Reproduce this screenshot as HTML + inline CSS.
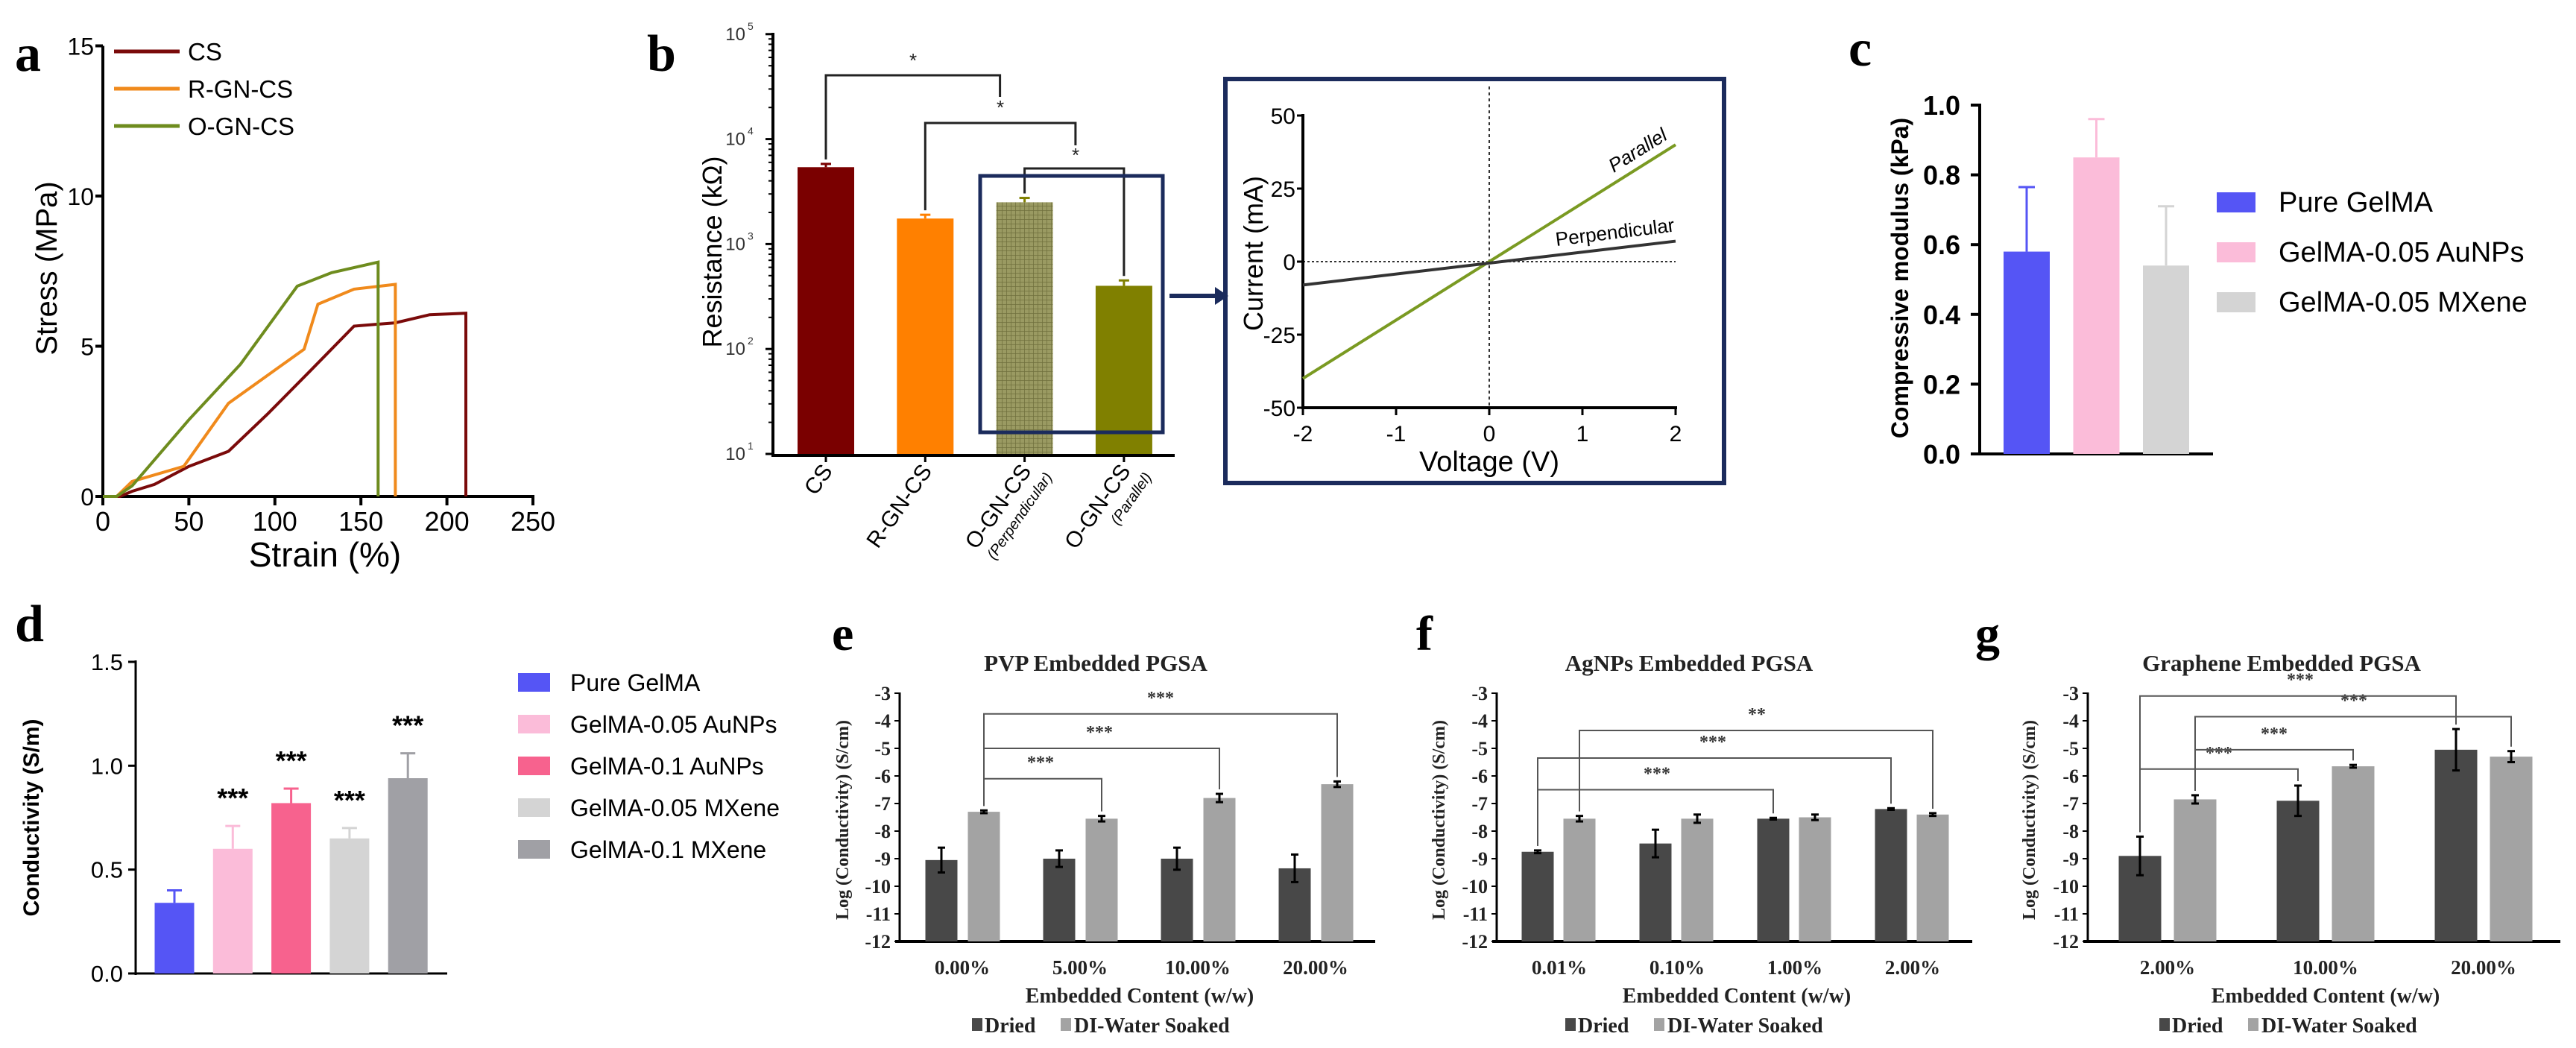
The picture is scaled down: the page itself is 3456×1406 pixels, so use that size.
<!DOCTYPE html>
<html><head><meta charset="utf-8">
<style>
html,body{margin:0;padding:0;background:#fff;}
svg{display:block;}
.sn{font-family:"Liberation Sans Narrow","Liberation Sans",sans-serif;}
.s{font-family:"Liberation Sans",sans-serif;}
.sf{font-family:"Liberation Serif",serif;}
</style></head>
<body>
<svg id="fig" width="3456" height="1406" viewBox="0 0 3456 1406" xmlns="http://www.w3.org/2000/svg">
<defs>
<pattern id="grid" width="6" height="6" patternUnits="userSpaceOnUse">
<rect width="6" height="6" fill="#9a9a62"/>
<path d="M0 0H6M0 0V6" stroke="#70703c" stroke-width="1.5"/>
</pattern>
</defs>
</svg>
<script>
// ---- panel a data ----
const aCSx=[0,10,17,30,50,73,96,120,146,170,190,211];
const aCSy=[0,0,0.17,0.4,1.0,1.5,2.76,4.15,5.67,5.78,6.05,6.1];
const aRGx=[0,8,17,47,73,117,125,146,170];
const aRGy=[0,0,0.5,1.0,3.1,4.9,6.4,6.9,7.06];
const aOGx=[0,8,17,50,80,113,133,160];
const aOGy=[0,0,0.35,2.55,4.4,7.0,7.45,7.8];
const aTicksX=[0,50,100,150,200,250];
const aTicksY=[0,5,10,15];
// ---- panel b data ----
const bCategories=["CS","R-GN-CS","O-GN-CS","O-GN-CS"];
const bSub=["","","(Perpendicular)","(Parallel)"];
const bValues=[5400,1750,2500,400];
const bErrors=[400,150,250,50];
const bDecades=[1,2,3,4,5];
// ---- inset data ----
const ivVoltage=[-2,2];
const ivParallel=[-40,40];
const ivPerp=[-8,7];
const ivTicksX=[-2,-1,0,1,2];
const ivTicksY=[-50,-25,0,25,50];
// ---- panel c data ----
const cCategories=["Pure GelMA","GelMA-0.05 AuNPs","GelMA-0.05 MXene"];
const cValues=[0.58,0.85,0.54];
const cErrors=[0.185,0.11,0.17];
const cTicks=[0,0.2,0.4,0.6,0.8,1.0];
// ---- panel d data ----
const dCategories=["Pure GelMA","GelMA-0.05 AuNPs","GelMA-0.1 AuNPs","GelMA-0.05 MXene","GelMA-0.1 MXene"];
const dValues=[0.34,0.60,0.82,0.65,0.94];
const dErrors=[0.06,0.11,0.07,0.05,0.12];
const dTicks=[0,0.5,1.0,1.5];
// ---- panels e,f,g data ----
const eCategories=["0.00%","5.00%","10.00%","20.00%"];
const eDried=[-9.05,-9.0,-9.0,-9.35];
const eDriedErr=[0.45,0.3,0.4,0.5];
const eSoaked=[-7.3,-7.55,-6.8,-6.3];
const eSoakedErr=[0.05,0.1,0.15,0.1];
const fCategories=["0.01%","0.10%","1.00%","2.00%"];
const fDried=[-8.75,-8.45,-7.55,-7.2];
const fDriedErr=[0.05,0.5,0.03,0.03];
const fSoaked=[-7.55,-7.55,-7.5,-7.4];
const fSoakedErr=[0.1,0.15,0.1,0.05];
const gCategories=["2.00%","10.00%","20.00%"];
const gDried=[-8.9,-6.9,-5.05];
const gDriedErr=[0.7,0.55,0.75];
const gSoaked=[-6.85,-5.65,-5.3];
const gSoakedErr=[0.15,0.05,0.2];
const logTicks=[-3,-4,-5,-6,-7,-8,-9,-10,-11,-12];

const NS="http://www.w3.org/2000/svg";
const svg=document.getElementById('fig');
function mk(tag,attrs,parent){const e=document.createElementNS(NS,tag);for(const k in attrs)e.setAttribute(k,attrs[k]);(parent||svg).appendChild(e);return e;}
function tx(x,y,s,attrs){const e=mk('text',Object.assign({x:x,y:y},attrs||{}));e.textContent=s;return e;}
function ln(x1,y1,x2,y2,st,w){return mk('line',{x1:x1,y1:y1,x2:x2,y2:y2,stroke:st||'#000','stroke-width':w||4});}
let el;

// ================= Panel a =================
const xA=v=>138+v*577/250, yA=v=>666-v*40.3;
el=tx(20,95,'a',{class:'sf','font-size':70,'font-weight':'bold'});


el=ln(xA(0),yA(15),xA(0),yA(0)+2);


el=ln(xA(0)-2,yA(0),xA(250)+2,yA(0));


aTicksX.forEach(v=>{
  el=ln(xA(v),yA(0),xA(v),yA(0)+12,'#000',4);
  
  
  el=tx(xA(v),712,String(v),{class:'sn','font-size':36,'text-anchor':'middle'});
  
  
});
aTicksY.forEach(v=>{
  el=ln(xA(0)-10,yA(v),xA(0),yA(v),'#000',4);
  
  
  el=tx(xA(0)-12,yA(v)+12,String(v),{class:'sn','font-size':32,'text-anchor':'end'});
  
  
});
el=tx(436,760,'Strain (%)',{class:'sn','font-size':46,'text-anchor':'middle'});


el=tx(0,0,'Stress (MPa)',{class:'s','font-size':40,'text-anchor':'middle',transform:'translate(76,360) rotate(-90)'});


function curve(xs,ys,col,name){
  let d=xs.map((x,i)=>(i?'L':'M')+xA(x).toFixed(1)+' '+yA(ys[i]).toFixed(1)).join(' ');
  d+=' L'+xA(xs[xs.length-1]).toFixed(1)+' '+yA(0);
  const p=mk('path',{d:d,fill:'none',stroke:col,'stroke-width':4});
  
  
}
curve(aCSx,aCSy,'#7a0a0a','cs-curve');
curve(aRGx,aRGy,'#f08a1c','r-gn-cs-curve');
curve(aOGx,aOGy,'#6e8c1e','o-gn-cs-curve');
[['CS','#7a0a0a',69],['R-GN-CS','#f08a1c',119],['O-GN-CS','#6e8c1e',169]].forEach(r=>{
  el=ln(153,r[2],241,r[2],r[1],5);
  
  
  el=tx(252,r[2]+12,r[0],{class:'sn','font-size':33});
  
  
});

// ================= Panel b =================
const yB=v=>609-(Math.log10(v)-1)*140.8, xB=i=>1108+i*133.3;
el=tx(868,95,'b',{class:'sf','font-size':70,'font-weight':'bold'});


el=ln(1037,44,1037,613);


el=ln(1035,611,1576,611);


bDecades.forEach(d=>{
  const y=yB(Math.pow(10,d));
  el=ln(1027,y,1037,y,'#000',3);
  
  
  const t=tx(1000,y+8,'10',{class:'sn','font-size':24,fill:'#333','text-anchor':'end'});
  
  
  el=tx(1003,y-6,String(d),{class:'sn','font-size':14,fill:'#333'});
  
  
  if(d<5){for(let m=2;m<10;m++){const ym=yB(m*Math.pow(10,d));
    el=ln(1031,ym,1037,ym,'#000',2);
    
    }}
});
el=tx(0,0,'Resistance (kΩ)',{class:'s','font-size':36,'text-anchor':'middle',transform:'translate(968,338) rotate(-90)'});


const bFill=['#7a0000','#ff8000','url(#grid)','#808000'];
bValues.forEach((v,i)=>{
  const x=xB(i), w=76;
  el=mk('rect',{x:x-w/2,y:yB(v),width:w,height:609-yB(v),fill:bFill[i]});
  
  
  const yt=yB(v+bErrors[i]);
  el=ln(x,yB(v),x,yt,bFill[i]==='url(#grid)'?'#808000':bFill[i],3);
  
  
  el=ln(x-7,yt,x+7,yt,bFill[i]==='url(#grid)'?'#808000':bFill[i],3);
  
  
  el=ln(x,611,x,620,'#000',3);
  
  
  el=tx(0,0,bCategories[i],{class:'sn','font-size':30,'text-anchor':'end',transform:'translate('+(x+10)+',632) rotate(-55)'});
  
  
  if(bSub[i]){
    el=tx(0,0,bSub[i],{class:'sn','font-size':20,'font-style':'italic','text-anchor':'end',transform:'translate('+(x+38)+',640) rotate(-55)'});
    
    
  }
});
function bracket(x1,y1,x2,y2,yh,col,w,name){
  const p=mk('path',{d:'M'+x1+' '+y1+' V'+yh+' H'+x2+' V'+y2,fill:'none',stroke:col,'stroke-width':w});
  
  
}
bracket(xB(0),yB(bValues[0]+bErrors[0])-6,xB(2)-33,130,101,'#222',3,'b-sig-bracket-1');
bracket(xB(1),yB(bValues[1]+bErrors[1])-6,xB(3)-65,195,165,'#222',3,'b-sig-bracket-2');
bracket(xB(2),yB(bValues[2]+bErrors[2])-6,xB(3),yB(bValues[3]+bErrors[3])-6,226,'#222',3,'b-sig-bracket-3');
[[1225,90],[1342,153],[1443,217]].forEach(s=>{
  el=tx(s[0],s[1],'*',{class:'s','font-size':26,'text-anchor':'middle',fill:'#222'});
  
  
});
el=mk('rect',{x:1315,y:236,width:245,height:344,fill:'none',stroke:'#1b2b5c','stroke-width':5});


el=ln(1569,397,1632,397,'#1b2b5c',6);


el=mk('polygon',{points:'1630,385 1648,397 1630,409',fill:'#1b2b5c'});



// ================= Inset IV =================
const xI=v=>1998+v*125, yI=v=>351-v*3.92;
el=mk('rect',{x:1644,y:106,width:669,height:542,fill:'none',stroke:'#1b2b5c','stroke-width':6});


el=ln(xI(0),116,xI(0),yI(-50),'#333',2);
el.setAttribute('stroke-dasharray','4 4');


el=ln(xI(-2),yI(0),xI(2),yI(0),'#333',2);
el.setAttribute('stroke-dasharray','3 3');


el=ln(xI(-2),yI(50)-2,xI(-2),yI(-50)+2,'#000',4);


el=ln(xI(-2)-2,yI(-50),xI(2)+2,yI(-50),'#000',4);


ivTicksX.forEach(v=>{
  el=ln(xI(v),yI(-50),xI(v),yI(-50)+10,'#000',3);
  
  
  el=tx(xI(v),592,String(v),{class:'sn','font-size':30,'text-anchor':'middle'});
  
  
});
ivTicksY.forEach(v=>{
  el=ln(xI(-2)-8,yI(v),xI(-2),yI(v),'#000',3);
  
  
  el=tx(xI(-2)-10,yI(v)+11,String(v),{class:'sn','font-size':30,'text-anchor':'end'});
  
  
});
el=tx(1998,632,'Voltage (V)',{class:'sn','font-size':38,'text-anchor':'middle'});


el=tx(0,0,'Current (mA)',{class:'s','font-size':36,'text-anchor':'middle',transform:'translate(1694,340) rotate(-90)'});


el=ln(xI(ivVoltage[0]),yI(ivParallel[0]),xI(ivVoltage[1]),yI(ivParallel[1]),'#7a9a22',4);


el=ln(xI(ivVoltage[0]),yI(ivPerp[0]),xI(ivVoltage[1]),yI(ivPerp[1]),'#333',4);


el=tx(0,0,'Parallel',{class:'sn','font-size':26,'font-style':'italic',transform:'translate(2165,232) rotate(-32)'});


el=tx(0,0,'Perpendicular',{class:'sn','font-size':26,transform:'translate(2088,330) rotate(-7)'});



// ================= Panel c =================
const yC=v=>609-v*468, xC=i=>2719+i*93.5;
const cCol=['#5555f5','#fbbcd9','#d4d4d4'];
el=tx(2480,88,'c',{class:'sf','font-size':70,'font-weight':'bold'});


el=ln(2656,yC(1)-2,2656,611);


el=ln(2654,609,2969,609);


cTicks.forEach(v=>{
  el=ln(2644,yC(v),2656,yC(v),'#000',4);
  
  
  el=tx(2630,yC(v)+13,v.toFixed(1),{class:'sn','font-size':36,'font-weight':'bold','text-anchor':'end'});
  
  
});
el=tx(0,0,'Compressive modulus (kPa)',{class:'s','font-size':32,'font-weight':'bold','text-anchor':'middle',transform:'translate(2560,373) rotate(-90)'});


cValues.forEach((v,i)=>{
  const x=xC(i);
  el=mk('rect',{x:x-31,y:yC(v),width:62,height:609-yC(v),fill:cCol[i]});
  
  
  el=ln(x,yC(v),x,yC(v+cErrors[i]),cCol[i],3);
  
  
  el=ln(x-11,yC(v+cErrors[i]),x+11,yC(v+cErrors[i]),cCol[i],3);
  
  
  el=mk('rect',{x:2974,y:258+i*67,width:52,height:27,fill:cCol[i]});
  
  
  el=tx(3057,284+i*67,cCategories[i],{class:'sn','font-size':38});
  
  
});

// ================= Panel d =================
const yD=v=>1306-v*278.7, xD=i=>234+i*78.3;
const dCol=['#5555f5','#fbbcd9','#f7628e','#d4d4d4','#a0a0a5'];
el=tx(20,860,'d',{class:'sf','font-size':70,'font-weight':'bold'});


el=ln(182,yD(1.5)-2,182,1308,'#000',3);


el=ln(180,1306,600,1306,'#000',3);


dTicks.forEach(v=>{
  el=ln(172,yD(v),182,yD(v),'#000',3);
  
  
  el=tx(165,yD(v)+11,v.toFixed(1),{class:'sn','font-size':31,'text-anchor':'end'});
  
  
});
el=tx(0,0,'Conductivity (S/m)',{class:'s','font-size':30,'font-weight':'bold','text-anchor':'middle',transform:'translate(52,1097) rotate(-90)'});


dValues.forEach((v,i)=>{
  const x=xD(i);
  el=mk('rect',{x:x-26.5,y:yD(v),width:53,height:1306-yD(v),fill:dCol[i]});
  
  
  el=ln(x,yD(v),x,yD(v+dErrors[i]),dCol[i],3);
  
  
  el=ln(x-10,yD(v+dErrors[i]),x+10,yD(v+dErrors[i]),dCol[i],3);
  
  
  if(i>0){
    el=tx(x,yD(v+dErrors[i])-25,'***',{class:'s','font-size':36,'font-weight':'bold','text-anchor':'middle'});
    
    
  }
  el=mk('rect',{x:695,y:903+i*56,width:43,height:25,fill:dCol[i]});
  
  
  el=tx(765,927+i*56,dCategories[i],{class:'sn','font-size':32});
  
  
});

// ================= Panels e,f,g =================
const yE=v=>930+(-3-v)*37;
function logPanel(p){
  el=tx(p.letterX,872,p.letter,{class:'sf','font-size':66,'font-weight':'bold'});
  
  
  el=tx(p.titleX,900,p.title,{class:'sf','font-size':31,'font-weight':'bold','text-anchor':'middle',fill:'#222'});
  
  
  el=ln(p.ax,yE(-3)-1,p.ax,yE(-12)+2,'#000',3);
  
  
  el=ln(p.ax-6,yE(-12),p.axEnd,yE(-12),'#000',4);
  
  
  logTicks.forEach(v=>{
    el=ln(p.ax-7,yE(v),p.ax,yE(v),'#000',2);
    
    
    el=tx(p.ax-12,yE(v)+9,String(v),{class:'sf','font-size':26,'font-weight':'bold','text-anchor':'end',fill:'#222'});
    
    
  });
  el=tx(0,0,'Log (Conductivity) (S/cm)',{class:'sf','font-size':24,'font-weight':'bold','text-anchor':'middle',fill:'#222',transform:'translate('+p.titleYx+',1100) rotate(-90)'});
  
  
  p.cats.forEach((c,i)=>{
    const gc=p.g0+i*p.gs;
    el=tx(gc,1307,c,{class:'sf','font-size':27,'font-weight':'bold','text-anchor':'middle',fill:'#222'});
    
    
    [[p.dried,p.driedErr,p.off[0],'#484848','dried'],[p.soaked,p.soakedErr,p.off[1],'#a3a3a3','soaked']].forEach(s=>{
      const v=s[0][i],e=s[1][i],x=gc+s[2];
      el=mk('rect',{x:x-p.bw/2,y:yE(v),width:p.bw,height:yE(-12)-yE(v),fill:s[3]});
      
      
      el=ln(x,yE(v+e),x,yE(v-e),'#000',3);
      
      
      el=ln(x-5,yE(v+e),x+5,yE(v+e),'#000',3);
      
      
      el=ln(x-5,yE(v-e),x+5,yE(v-e),'#000',3);
      
      
    });
  });
  el=tx(p.xtX,1345,'Embedded Content (w/w)',{class:'sf','font-size':28,'font-weight':'bold','text-anchor':'middle',fill:'#222'});
  
  
  el=mk('rect',{x:p.lgX,y:1366,width:14,height:17,fill:'#484848'});
  
  
  el=tx(p.lgX+17,1385,'Dried',{class:'sf','font-size':28,'font-weight':'bold',fill:'#222'});
  
  
  el=mk('rect',{x:p.lgX+119,y:1366,width:14,height:17,fill:'#a3a3a3'});
  
  
  el=tx(p.lgX+137,1385,'DI-Water Soaked',{class:'sf','font-size':28,'font-weight':'bold',fill:'#222'});
  
  
  p.brackets.forEach(b=>{
    const x1=p.g0+b[0]*p.gs+p.off[b[1]], x2=p.g0+b[2]*p.gs+p.off[b[3]];
    const s1=b[1]?p.soaked:p.dried, e1=b[1]?p.soakedErr:p.driedErr;
    const s2=b[3]?p.soaked:p.dried, e2=b[3]?p.soakedErr:p.driedErr;
    bracket(x1,yE(s1[b[0]]+e1[b[0]])-6,x2,yE(s2[b[2]]+e2[b[2]])-6,yE(b[4]),'#555',2,p.letter+'-sig-bracket');
    el=tx(b[5],yE(b[4])-14,b[6],{class:'sf','font-size':24,'font-weight':'bold','text-anchor':'middle',fill:'#333'});
    
    
  });
}
logPanel({letter:'e',letterX:1116,title:'PVP Embedded PGSA',titleX:1470,ax:1207,axEnd:1845,titleYx:1138,
  cats:eCategories,dried:eDried,driedErr:eDriedErr,soaked:eSoaked,soakedErr:eSoakedErr,
  g0:1291,gs:158,off:[-28,29],bw:43,xtX:1529,lgX:1304,
  brackets:[[0,1,1,1,-6.1,1396,'***'],[0,1,2,1,-5.0,1475,'***'],[0,1,3,1,-3.75,1557,'***']]});
logPanel({letter:'f',letterX:1900,title:'AgNPs Embedded PGSA',titleX:2266,ax:2008,axEnd:2646,titleYx:1938,
  cats:fCategories,dried:fDried,driedErr:fDriedErr,soaked:fSoaked,soakedErr:fSoakedErr,
  g0:2092,gs:158,off:[-29,27],bw:43,xtX:2330,lgX:2100,
  brackets:[[0,0,2,0,-6.5,2223,'***'],[0,0,3,0,-5.35,2298,'***'],[0,1,3,1,-4.35,2357,'**']]});
logPanel({letter:'g',letterX:2650,title:'Graphene Embedded PGSA',titleX:3061,ax:2801,axEnd:3435,titleYx:2730,
  cats:gCategories,dried:gDried,driedErr:gDriedErr,soaked:gSoaked,soakedErr:gSoakedErr,
  g0:2908,gs:212,off:[-37,37],bw:57,xtX:3120,lgX:2897,
  brackets:[[0,0,1,0,-5.75,2977,'***'],[0,1,1,1,-5.05,3051,'***'],[0,1,2,1,-3.85,3158,'***'],[0,0,2,0,-3.1,3086,'***']]});
</script>
</body></html>
